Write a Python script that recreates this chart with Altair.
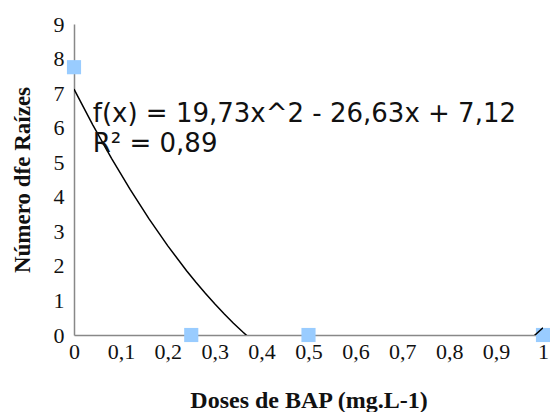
import altair as alt
import pandas as pd

doses = [0, 0.25, 0.5, 1]
raizes = [7.75, 0, 0, 0]
x_ticks = [0, 0.1, 0.2, 0.3, 0.4, 0.5, 0.6, 0.7, 0.8, 0.9, 1]
y_ticks = [0, 1, 2, 3, 4, 5, 6, 7, 8, 9]
equation = ["f(x) = 19,73x^2 - 26,63x + 7,12", "R² = 0,89"]

df = pd.DataFrame({"x": doses, "y": raizes})

xscale = alt.Scale(domain=[0, 1], nice=False, zero=False)
yscale = alt.Scale(domain=[0, 9], nice=False)

xaxis = alt.Axis(
    values=x_ticks, labelExpr="replace(format(datum.value, '.1~f'), '.', ',')",
    title="Doses de BAP (mg.L-1)", titleFont="Liberation Serif", titleFontSize=24,
    titleFontWeight="bold", titleColor="#111", titlePadding=26,
    labelFont="Liberation Serif", labelFontSize=22, labelColor="#111", labelPadding=6,
    ticks=False, grid=False, domainColor="#888", domainWidth=1.5, labelFlush=False,
    labelOverlap=False,
)
yaxis = alt.Axis(
    values=y_ticks, title="Número dfe Raízes", titleFont="Liberation Serif",
    titleFontSize=23, titleFontWeight="bold", titleColor="#111", titlePadding=19,
    labelFont="Liberation Serif", labelFontSize=22, labelColor="#111", labelPadding=10,
    ticks=False, grid=False, domainColor="#888", domainWidth=1.5, labelOverlap=False,
)

X = alt.X("x:Q", scale=xscale, axis=xaxis)
Y = alt.Y("y:Q", scale=yscale, axis=yaxis)

base = alt.Chart(df)

curve = base.transform_regression(
    "x", "y", method="poly", order=2, extent=[0, 1]
).mark_line(color="black", strokeWidth=1.5, clip=True).encode(x=X, y=Y)

points = base.mark_square(size=200, color="#99ccff", opacity=1).encode(x=X, y=Y)

text = alt.Chart(pd.DataFrame({"t": [equation]})).mark_text(
    align="left", baseline="alphabetic", font="DejaVu Sans", fontSize=26,
    lineHeight=30, color="#111",
).encode(
    x=alt.XDatum(0.04, scale=xscale, axis=xaxis),
    y=alt.YDatum(6.16, scale=yscale, axis=yaxis),
    text="t",
)

chart = alt.layer(points, curve, text).properties(
    width=469, height=311,
    autosize=alt.AutoSizeParams(type="none"),
    padding={"left": 74, "top": 24, "right": 7, "bottom": 77},
).configure_view(stroke=None)

chart.save("out.html", embed_options={"renderer": "svg", "actions": False})
